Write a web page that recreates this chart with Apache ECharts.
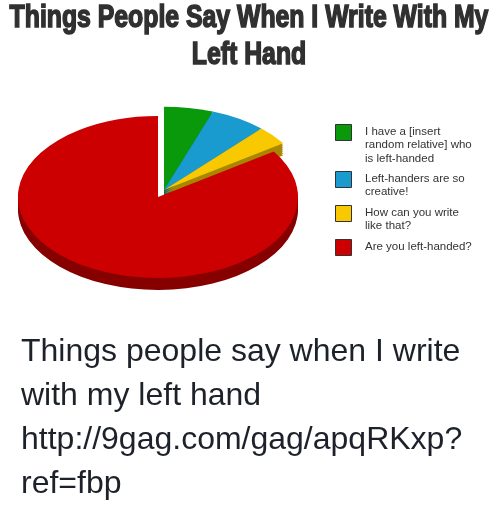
<!DOCTYPE html>
<html>
<head>
<meta charset="utf-8">
<script src="https://cdn.jsdelivr.net/npm/echarts@6/dist/echarts.min.js"></script>
<style>
  html, body { margin: 0; padding: 0; background: #ffffff; }
  #chart { width: 500px; height: 515px; }
</style>
</head>
<body>
<div id="chart"></div>
<script>
// ---- data ----
const chartTitle = 'Things People Say When I Write With My\nLeft Hand';
const categories = [
  'I have a [insert\nrandom relative] who\nis left-handed',
  'Left-handers are so\ncreative!',
  'How can you write\nlike that?',
  'Are you left-handed?'
];
const values = [5.5, 6.3, 3.7, 84.5];
const explodedSlices = [true, true, true, false];
const captionLines = [
  'Things people say when I write',
  'with my left hand',
  'http://9gag.com/gag/apqRKxp?',
  'ref=fbp'
];

// ---- styles ----
const topColors = ['#0a990a', '#1a9bd0', '#f8c800', '#cc0000'];
const sideColors = ['#066b06', '#0f6c93', '#a98600', '#860000'];

const total = values.reduce((a, b) => a + b, 0);
const starts = [];
values.reduce((acc, v) => { starts.push(acc); return acc + v; }, 0);

const seriesData = values.map((v, i) => ({ name: categories[i].replace(/\n/g, ' '), value: [v, starts[i], i] }));

const CXF = 0.316, CY = 197, R = 140, RATIO = 0.578, DEPTH = 12;
const EX_DX = 6, EX_DY = -7, EX_R = 1.03;

function sliceGroup(params, api, side) {
  const v = api.value(0), s = api.value(1), idx = api.value(2);
  const a0 = s / total * Math.PI * 2 - Math.PI / 2;
  const a1 = (s + v) / total * Math.PI * 2 - Math.PI / 2;
  const ex = explodedSlices[idx];
  const cx = api.getWidth() * CXF + (ex ? EX_DX : 0);
  const cy = CY + (ex ? EX_DY : 0);
  const r = R * (ex ? EX_R : 1);
  const children = [];
  const offsets = side ? [2, 4, 6, 8, 10, DEPTH] : [0];
  offsets.forEach(off => {
    children.push({
      type: 'group', x: cx, y: cy + off, scaleY: RATIO,
      children: [{
        type: 'sector',
        shape: { cx: 0, cy: 0, r: r, r0: 0, startAngle: a0, endAngle: a1, clockwise: true },
        style: { fill: side ? sideColors[idx] : topColors[idx], stroke: null }
      }]
    });
  });
  return { type: 'group', children: children };
}

// legend built from categories
const legendGraphics = [];
let ly = 124;
categories.forEach((c, i) => {
  const lines = c.split('\n').length;
  legendGraphics.push({
    type: 'rect', left: 335, top: ly,
    shape: { width: 16, height: 16 },
    style: { fill: topColors[i], stroke: '#333', lineWidth: 1 }
  });
  legendGraphics.push({
    type: 'text', left: 365, top: ly + 1,
    style: { text: c, font: '11.5px "Liberation Sans", Arial, sans-serif', fill: '#333', lineHeight: 13.5 }
  });
  ly += lines * 13 + 8;
});

const chart = echarts.init(document.getElementById('chart'), null, { renderer: 'canvas' });
chart.setOption({
  animation: false,
  backgroundColor: '#ffffff',
  graphic: legendGraphics.concat([
    {
      type: 'text', x: 249, y: 0, scaleX: 0.775,
      style: {
        text: chartTitle,
        textAlign: 'center',
        font: 'bold 32px "Liberation Sans", Arial, sans-serif',
        fill: '#303030',
        stroke: '#303030',
        lineWidth: 1.6,
        lineHeight: 37
      }
    },
    {
      type: 'text', left: 21, top: 330,
      style: {
        text: captionLines.join('\n'),
        font: '32px "Liberation Sans", Arial, sans-serif',
        fill: '#1d2129',
        lineHeight: 44
      }
    }
  ]),
  series: [
    {
      type: 'custom', name: 'side', coordinateSystem: 'none', silent: true, z: 1,
      renderItem: (p, api) => sliceGroup(p, api, true),
      data: seriesData
    },
    {
      type: 'custom', name: 'top', coordinateSystem: 'none', z: 2,
      renderItem: (p, api) => sliceGroup(p, api, false),
      data: seriesData
    }
  ]
});
</script>
</body>
</html>
